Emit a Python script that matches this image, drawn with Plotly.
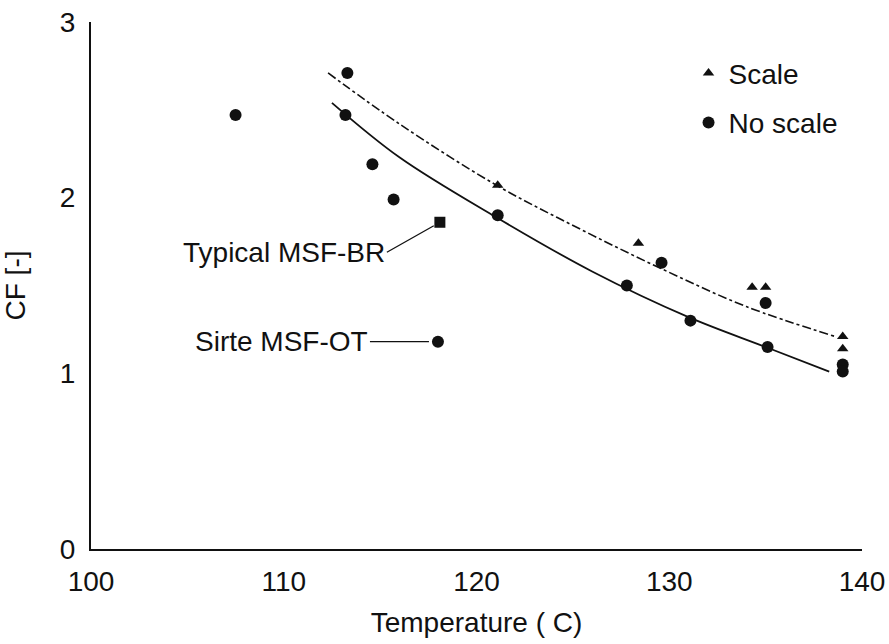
import plotly.graph_objects as go

# ---- data ----
scale_T = [121.1, 128.4, 134.3, 135.0, 139.0, 139.0]
scale_CF = [2.07, 1.74, 1.49, 1.49, 1.21, 1.14]

noscale_T = [107.5, 113.3, 113.2, 114.6, 115.7, 121.1, 127.8, 129.6, 131.1, 135.0, 135.1, 139.0, 139.0]
noscale_CF = [2.47, 2.71, 2.47, 2.19, 1.99, 1.90, 1.50, 1.63, 1.30, 1.40, 1.15, 1.05, 1.01]

typical_T = [118.1]
typical_CF = [1.86]

sirte_T = [118.0]
sirte_CF = [1.18]

trend_noscale_T = [112.5, 116.0, 121.0, 126.0, 131.0, 135.0, 138.3]
trend_noscale_CF = [2.54, 2.23, 1.89, 1.58, 1.32, 1.15, 1.01]

trend_scale_T = [112.3, 116.0, 121.05, 125.4, 129.7, 134.0, 138.6]
trend_scale_CF = [2.71, 2.42, 2.07, 1.82, 1.59, 1.38, 1.21]

x_ticks = [100, 110, 120, 130, 140]
y_ticks = [0, 1, 2, 3]

FONT = "Liberation Sans, Arial, sans-serif"
INK = "#111111"
FS = 28

fig = go.Figure()

fig.add_trace(go.Scatter(
    x=trend_scale_T, y=trend_scale_CF, mode="lines", line_shape="spline",
    line=dict(color=INK, width=1.6, dash="dashdot"), showlegend=False, hoverinfo="skip"))
fig.add_trace(go.Scatter(
    x=trend_noscale_T, y=trend_noscale_CF, mode="lines", line_shape="spline",
    line=dict(color=INK, width=1.8), showlegend=False, hoverinfo="skip"))

fig.add_trace(go.Scatter(
    x=scale_T, y=scale_CF, mode="markers", name="Scale", legendgroup="a",
    marker=dict(symbol="triangle-up", size=10, color=INK)))
fig.add_trace(go.Scatter(
    x=noscale_T, y=noscale_CF, mode="markers", name="No scale", legendgroup="b",
    marker=dict(symbol="circle", size=12, color=INK)))
fig.add_trace(go.Scatter(
    x=typical_T, y=typical_CF, mode="markers", showlegend=False,
    marker=dict(symbol="square", size=11, color=INK)))
fig.add_trace(go.Scatter(
    x=sirte_T, y=sirte_CF, mode="markers", showlegend=False,
    marker=dict(symbol="circle", size=12, color=INK)))

fig.add_annotation(
    x=typical_T[0], y=typical_CF[0], text="Typical MSF-BR", showarrow=True,
    arrowhead=0, arrowwidth=1.3, arrowcolor=INK, ax=-53, ay=30,
    xanchor="right", yanchor="middle", standoff=7,
    font=dict(family=FONT, size=FS, color=INK))
fig.add_annotation(
    x=sirte_T[0], y=sirte_CF[0], text="Sirte MSF-OT", showarrow=True,
    arrowhead=0, arrowwidth=1.3, arrowcolor=INK, ax=-68, ay=0,
    xanchor="right", yanchor="middle", standoff=9,
    font=dict(family=FONT, size=FS, color=INK))

fig.update_layout(
    width=889, height=644,
    margin=dict(l=91, r=27, t=22, b=95, autoexpand=False),
    paper_bgcolor="white", plot_bgcolor="white",
    font=dict(family=FONT, size=FS, color=INK),
    legend=dict(x=0.775, y=0.95, xanchor="left", yanchor="top",
                bgcolor="rgba(0,0,0,0)", font=dict(size=FS),
                traceorder="grouped", tracegroupgap=10),
    showlegend=True,
)
fig.update_xaxes(
    range=[100, 140], tickvals=x_ticks, ticks="", showgrid=False, zeroline=False,
    showline=True, linecolor=INK, linewidth=2, ticklabelstandoff=6, automargin=False,
    ticklabeloverflow="allow",
    title=dict(text="Temperature ( C)", standoff=17, font=dict(size=FS)))
fig.update_yaxes(
    range=[0, 3], tickvals=y_ticks, ticks="", showgrid=False, zeroline=False,
    showline=True, linecolor=INK, linewidth=2, ticklabelstandoff=8, automargin=False,
    ticklabeloverflow="allow",
    title=dict(text="CF [-]", standoff=30, font=dict(size=FS)))

# remove the default page margin so the figure fills the window exactly
fig.write_html(
    "out.html",
    config={"displayModeBar": False},
    post_script="document.body.style.margin='0';document.body.style.overflow='hidden';")
